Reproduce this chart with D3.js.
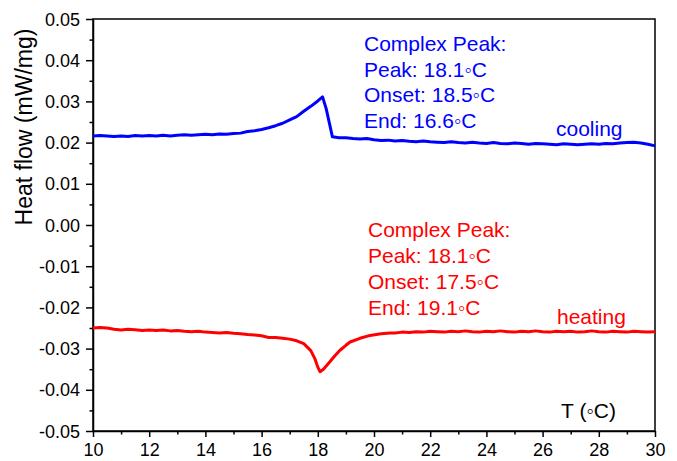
<!DOCTYPE html>
<html><head><meta charset="utf-8">
<script src="https://cdn.jsdelivr.net/npm/d3@7"></script>
<style>body{margin:0;background:#fff}svg{display:block}text{font-family:"Liberation Sans",Arial,sans-serif}</style>
</head><body>
<svg id="c" width="677" height="461"></svg>
<script>
const coolingT = [10,10.25,10.5,10.75,11,11.25,11.5,11.75,12,12.25,12.5,12.75,13,13.25,13.5,13.75,14,14.25,14.5,14.75,15,15.25,15.5,15.75,16,16.25,16.5,16.75,17,17.25,17.5,17.75,18,18.17,18.3,18.42,18.52,18.75,19,19.25,19.5,19.75,20,20.25,20.5,20.75,21,21.25,21.5,21.75,22,22.25,22.5,22.75,23,23.25,23.5,23.75,24,24.25,24.5,24.75,25,25.25,25.5,25.75,26,26.25,26.5,26.75,27,27.25,27.5,27.75,28,28.25,28.5,28.75,29,29.25,29.5,29.75,30];
const coolingV = [0.0216,0.0217,0.0216,0.0215,0.0216,0.0215,0.0217,0.0216,0.0217,0.0216,0.0218,0.0216,0.0218,0.0219,0.0218,0.0219,0.0220,0.0219,0.0221,0.0220,0.0222,0.0223,0.0227,0.0229,0.0232,0.0236,0.0241,0.0247,0.0255,0.0263,0.0276,0.0288,0.0301,0.0311,0.0282,0.0245,0.0214,0.0212,0.0212,0.0210,0.0209,0.0210,0.0207,0.0205,0.0206,0.0204,0.0205,0.0203,0.0202,0.0204,0.0202,0.0201,0.0200,0.0202,0.0200,0.0199,0.0201,0.0199,0.0198,0.0200,0.0198,0.0197,0.0199,0.0198,0.0196,0.0198,0.0197,0.0196,0.0195,0.0197,0.0196,0.0195,0.0196,0.0197,0.0196,0.0198,0.0197,0.0199,0.0200,0.0201,0.0199,0.0196,0.0192];
const heatingT = [10,10.25,10.5,10.75,11,11.25,11.5,11.75,12,12.25,12.5,12.75,13,13.25,13.5,13.75,14,14.25,14.5,14.75,15,15.25,15.5,15.75,16,16.25,16.5,16.75,17,17.25,17.5,17.75,17.9,18,18.08,18.2,18.43,18.6,18.79,19,19.15,19.5,19.86,20.25,20.57,20.75,21,21.25,21.5,21.75,22,22.25,22.5,22.75,23,23.25,23.5,23.75,24,24.25,24.5,24.75,25,25.25,25.5,25.75,26,26.25,26.5,26.75,27,27.25,27.5,27.75,28,28.25,28.5,28.75,29,29.25,29.5,29.75,30];
const heatingV = [-0.0250,-0.0249,-0.0250,-0.0253,-0.0255,-0.0253,-0.0254,-0.0256,-0.0255,-0.0256,-0.0255,-0.0257,-0.0256,-0.0258,-0.0259,-0.0258,-0.0260,-0.0261,-0.0262,-0.0261,-0.0263,-0.0264,-0.0266,-0.0267,-0.0269,-0.0273,-0.0273,-0.0275,-0.0277,-0.0281,-0.0288,-0.0305,-0.0325,-0.0345,-0.0356,-0.0350,-0.0332,-0.0318,-0.0304,-0.0292,-0.0284,-0.0275,-0.0268,-0.0264,-0.0262,-0.0262,-0.0260,-0.0261,-0.0259,-0.0260,-0.0258,-0.0259,-0.0260,-0.0258,-0.0259,-0.0257,-0.0259,-0.0260,-0.0258,-0.0259,-0.0257,-0.0259,-0.0260,-0.0258,-0.0259,-0.0257,-0.0259,-0.0260,-0.0258,-0.0259,-0.0258,-0.0260,-0.0259,-0.0257,-0.0259,-0.0260,-0.0258,-0.0259,-0.0260,-0.0258,-0.0259,-0.0260,-0.0259];
const xTicks = [10,12,14,16,18,20,22,24,26,28,30];
const yTicks = [0.05,0.04,0.03,0.02,0.01,0.00,-0.01,-0.02,-0.03,-0.04,-0.05];
const coolingNote = ["Complex Peak:","Peak: 18.1\u25E6C","Onset: 18.5\u25E6C","End: 16.6\u25E6C"];
const heatingNote = ["Complex Peak:","Peak: 18.1\u25E6C","Onset: 17.5\u25E6C","End: 19.1\u25E6C"];

const svg = d3.select("#c");
const m = {l:93, r:22, t:19, b:30};
const W = 677, H = 461;
const x = d3.scaleLinear().domain([10,30]).range([m.l, W-m.r]);
const y = d3.scaleLinear().domain([-0.05,0.05]).range([H-m.b, m.t]);

svg.append("rect").attr("x",m.l).attr("y",m.t).attr("width",W-m.l-m.r).attr("height",H-m.t-m.b)
  .attr("fill","none").attr("stroke","#000").attr("stroke-width",1.5);

const minorX = d3.range(11,30,2);
const minorY = d3.range(-0.045,0.05,0.01);
const xa = svg.append("g").attr("transform",`translate(0,${H-m.b})`)
  .call(d3.axisBottom(x).tickValues(xTicks).tickFormat(d3.format("d")).tickSize(6).tickSizeOuter(0));
svg.append("g").attr("transform",`translate(0,${H-m.b})`)
  .call(d3.axisBottom(x).tickValues(minorX).tickFormat("").tickSize(3.5).tickSizeOuter(0))
  .select(".domain").remove();
const ya = svg.append("g").attr("transform",`translate(${m.l},0)`)
  .call(d3.axisLeft(y).tickValues(yTicks).tickFormat(d=>d.toFixed(2)).tickSize(7).tickSizeOuter(0));
svg.append("g").attr("transform",`translate(${m.l},0)`)
  .call(d3.axisLeft(y).tickValues(minorY).tickFormat("").tickSize(3.5).tickSizeOuter(0))
  .select(".domain").remove();
svg.selectAll(".tick line").attr("stroke-width",1.5);
svg.selectAll(".domain").attr("stroke-width",1.5);
xa.selectAll("text").attr("font-size",18).attr("fill","#000").attr("y",11).attr("dy","0.78em");
ya.selectAll("text").attr("font-size",18).attr("fill","#000").attr("x",-13).attr("dy","0.34em");

const line = d3.line().x(d=>x(d[0])).y(d=>y(d[1]));
svg.append("path").datum(d3.zip(coolingT,coolingV)).attr("d",line)
  .attr("fill","none").attr("stroke","#0000ff").attr("stroke-width",3).attr("stroke-linejoin","round");
svg.append("path").datum(d3.zip(heatingT,heatingV)).attr("d",line)
  .attr("fill","none").attr("stroke","#ff0000").attr("stroke-width",3).attr("stroke-linejoin","round");

svg.append("text").attr("transform",`translate(32,127) rotate(-90)`)
  .attr("text-anchor","middle").attr("font-size",23).text("Heat flow (mW/mg)");
svg.append("text").attr("x",616).attr("y",418).attr("text-anchor","end").attr("font-size",21).text("T (\u25E6C)");

svg.append("g").selectAll("text").data(coolingNote).join("text")
  .attr("x",364).attr("y",(d,i)=>51+i*25.7).attr("font-size",21).attr("fill","#0000ff").text(d=>d);
svg.append("text").attr("x",556).attr("y",136).attr("font-size",21).attr("fill","#0000ff").text("cooling");
svg.append("g").selectAll("text").data(heatingNote).join("text")
  .attr("x",368).attr("y",(d,i)=>237+i*26).attr("font-size",21).attr("fill","#ff0000").text(d=>d);
svg.append("text").attr("x",557).attr("y",324).attr("font-size",21).attr("fill","#ff0000").text("heating");
</script>
</body></html>
